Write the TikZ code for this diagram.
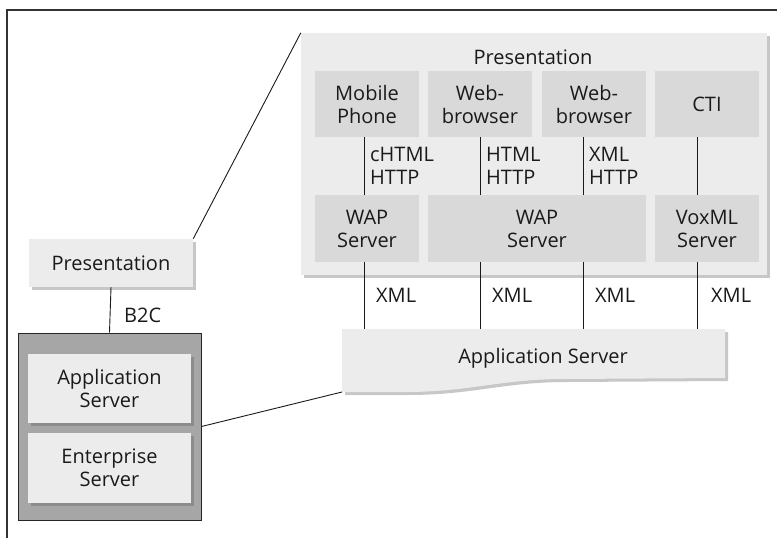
\documentclass[tikz,border=0pt]{standalone}
\usepackage{fontspec}
\setmainfont{Open Sans}
\usetikzlibrary{shadows}

\definecolor{paneltone}{HTML}{ECECEC}
\definecolor{boxtone}{HTML}{D9D9D9}
\definecolor{darktone}{HTML}{A6A6A6}
\definecolor{inktone}{HTML}{1A1A1A}

\tikzset{
    lightbox/.style = {fill = paneltone, general shadow = {fill = black!22, shadow xshift = 3pt, shadow yshift = -3pt}},
    innerbox/.style = {fill = paneltone, align = center, inner sep = 0pt, minimum width = 163pt,
        general shadow = {fill = black!45, shadow xshift = 3pt, shadow yshift = -3pt}},
    tierbox/.style = {fill = boxtone, align = center, inner sep = 0pt, minimum width = 104pt, minimum height = 66pt},
    link/.style = {draw = inktone, line width = 0.9pt},
    tag/.style = {anchor = west, align = left, inner sep = 0pt}
}

\begin{document}
\begin{tikzpicture}[x = 1pt, y = -1pt, font = \fontsize{20}{23}\selectfont, text = inktone]
    \useasboundingbox (0,0) rectangle (777,538);
    % frame
    \draw [line width = 2pt, draw = black!80] (6,10) -- (777,10);
    \draw [line width = 2pt, draw = black!80] (7,10) -- (7,538);

    % left side
    \node (pres) at (111,263) [lightbox, minimum width = 164pt, minimum height = 48pt, inner sep = 0pt] {Presentation};
    \node (tier) at (109.5,426.5) [fill = darktone, draw = black!85, line width = 1pt, minimum width = 183pt, minimum height = 187pt] {};
    \node (appsrv) at (109.5,388.5) [innerbox, minimum height = 69pt] {Application\\Server};
    \node (entsrv) at (109.5,468) [innerbox, minimum height = 70pt] {Enterprise\\Server};
    \draw [link] (pres.south) -- (tier.north);
    \node at (124,315) [tag] {B2C};

    % presentation panel
    \node (panel) at (534,154) [lightbox, minimum width = 466pt, minimum height = 242pt] {};
    \node (panelTitle) at (533,57) {Presentation};
    \node (mobile) at (367,104) [tierbox] {Mobile\\Phone};
    \node (webA) at (480,104) [tierbox] {Web-\\browser};
    \node (webB) at (594,104) [tierbox] {Web-\\browser};
    \node (cti) at (707,104) [tierbox] {CTI};
    \node (wapA) at (367,228.5) [tierbox, minimum height = 67pt] {WAP\\Server};
    \node (wapB) at (537,228.5) [tierbox, minimum width = 218pt, minimum height = 67pt] {WAP\\Server};
    \node (vox) at (707,228.5) [tierbox, minimum height = 67pt] {VoxML\\Server};

    \draw [link] ([xshift = -3pt]mobile.south) -- ([xshift = -3pt]wapA.north);
    \draw [link] (webA.south) -- (webA.south |- wapB.north);
    \draw [link] ([xshift = -11pt]webB.south) -- ([xshift = -11pt]webB.south |- wapB.north);
    \draw [link] ([xshift = -10pt]cti.south) -- ([xshift = -10pt]vox.north);
    \node at (370,166) [tag] {cHTML\\HTTP};
    \node at (486,166) [tag] {HTML\\HTTP};
    \node at (589,166) [tag] {XML\\HTTP};

    % application server with wavy bottom
    \coordinate (appTop) at (342,329);
    \coordinate (appFoot) at (342,392);
    \path [lightbox] (appTop) -- (725,329) -- (725,378) -- (565,379)
        .. controls (500,379) and (470,392) .. (405,392) -- (appFoot) -- cycle;
    \node (app) at (543,358) {Application Server};

    \draw [link] ([xshift = -3pt]wapA.south) -- ([xshift = -3pt]wapA.south |- appTop);
    \draw [link] (webA.south |- wapB.south) -- (webA.south |- appTop);
    \draw [link] ([xshift = -11pt]webB.south |- wapB.south) -- ([xshift = -11pt]webB.south |- appTop);
    \draw [link] ([xshift = -10pt]vox.south) -- ([xshift = -10pt]vox.south |- appTop);
    \node at (376,295) [tag] {XML};
    \node at (492,295) [tag] {XML};
    \node at (595,295) [tag] {XML};
    \node at (711,295) [tag] {XML};

    % zoom lines
    \draw [link] (pres.north east) -- (panel.north west);
    \draw [link] (tier.east) -- (appFoot);
\end{tikzpicture}
\end{document}
